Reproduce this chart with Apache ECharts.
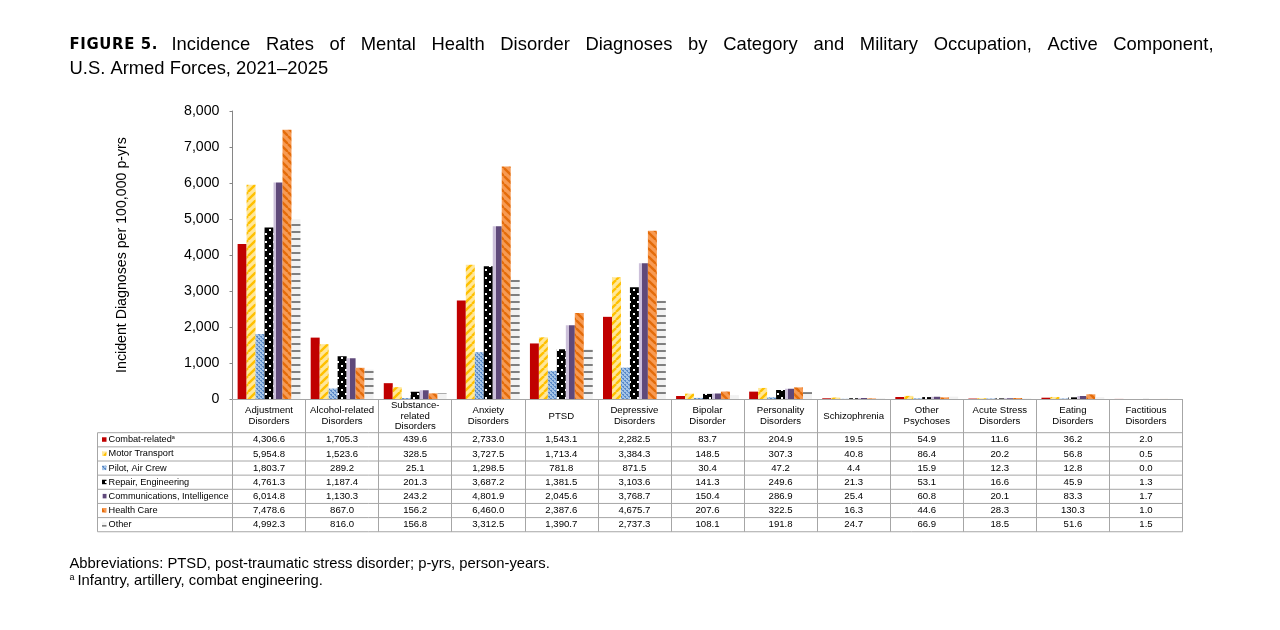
<!DOCTYPE html>
<html><head><meta charset="utf-8">
<script src="https://cdn.jsdelivr.net/npm/echarts@6/dist/echarts.min.js"></script>
<style>html,body{margin:0;padding:0;background:#fff}#c{width:1280px;height:630px}</style>
</head><body><div id="c"></div>
<script>
// ---------- DATA ----------
const categories = ['Adjustment\nDisorders','Alcohol-related\nDisorders','Substance-\nrelated\nDisorders','Anxiety\nDisorders','PTSD','Depressive\nDisorders','Bipolar\nDisorder','Personality\nDisorders','Schizophrenia','Other\nPsychoses','Acute Stress\nDisorders','Eating\nDisorders','Factitious\nDisorders'];
const seriesNames = ['Combat-related','Motor Transport','Pilot, Air Crew','Repair, Engineering','Communications, Intelligence','Health Care','Other'];
const combatRelated     = [4306.6,1705.3,439.6,2733.0,1543.1,2282.5,83.7,204.9,19.5,54.9,11.6,36.2,2.0];
const motorTransport    = [5954.8,1523.6,328.5,3727.5,1713.4,3384.3,148.5,307.3,40.8,86.4,20.2,56.8,0.5];
const pilotAirCrew      = [1803.7,289.2,25.1,1298.5,781.8,871.5,30.4,47.2,4.4,15.9,12.3,12.8,0.0];
const repairEngineering = [4761.3,1187.4,201.3,3687.2,1381.5,3103.6,141.3,249.6,21.3,53.1,16.6,45.9,1.3];
const commsIntelligence = [6014.8,1130.3,243.2,4801.9,2045.6,3768.7,150.4,286.9,25.4,60.8,20.1,83.3,1.7];
const healthCare        = [7478.6,867.0,156.2,6460.0,2387.6,4675.7,207.6,322.5,16.3,44.6,28.3,130.3,1.0];
const otherOccupations  = [4992.3,816.0,156.8,3312.5,1390.7,2737.3,108.1,191.8,24.7,66.9,18.5,51.6,1.5];
const yTicks = [0,1000,2000,3000,4000,5000,6000,7000,8000];

const rows = [combatRelated, motorTransport, pilotAirCrew, repairEngineering, commsIntelligence, healthCare, otherOccupations];

// ---------- STYLE ----------
const FONT = '"Liberation Sans", Arial, sans-serif';
function tile(w,h,draw){const c=document.createElement('canvas');c.width=w;c.height=h;const g=c.getContext('2d');draw(g,w,h);return c;}
const yellowTile = tile(8,8,(g,w,h)=>{g.fillStyle='#FFE79A';g.fillRect(0,0,w,h);g.strokeStyle='#FFC000';g.lineWidth=2.4;
  for(const o of [-w,0,w]){g.beginPath();g.moveTo(o,h);g.lineTo(o+w,0);g.stroke();}});
const orangeTile = tile(8,8,(g,w,h)=>{g.fillStyle='#F79A52';g.fillRect(0,0,w,h);g.strokeStyle='#E46C0A';g.lineWidth=2.4;
  for(const o of [-w,0,w]){g.beginPath();g.moveTo(o,0);g.lineTo(o+w,h);g.stroke();}});
const blueTile = tile(4,4,(g)=>{g.fillStyle='#A4C3E6';g.fillRect(0,0,4,4);g.fillStyle='#5A8AC8';g.fillRect(0,0,2,1);g.fillRect(2,2,2,1);g.fillRect(1,1,1,1);g.fillRect(3,3,1,1);});
const blackTile = tile(8,8,(g)=>{g.fillStyle='#000';g.fillRect(0,0,8,8);g.fillStyle='#fff';g.fillRect(1,1,2,2);g.fillRect(5,5,2,2);});
const grayTile = tile(4,7,(g)=>{g.fillStyle='#F2F2F2';g.fillRect(0,0,4,7);g.fillStyle='#7F7F7F';g.fillRect(0,0,4,2);});
const purpleFill = new echarts.graphic.LinearGradient(0,0,1,0,[
  {offset:0,color:'#CCC0DA'},{offset:0.33,color:'#CCC0DA'},{offset:0.33,color:'#5F497A'},{offset:1,color:'#5F497A'}]);
const fills = ['#C00000',
  {image:yellowTile,repeat:'repeat'},
  {image:blueTile,repeat:'repeat'},
  {image:blackTile,repeat:'repeat'},
  purpleFill,
  {image:orangeTile,repeat:'repeat'},
  {image:grayTile,repeat:'repeat'}];

// ---------- LAYOUT ----------
const gridLeft = 232.5, gridRight = 1182.5, gridTop = 111, axisY = 399;
const headerBottom = 432.7, rowH = 14.15, tableLeft = 97.5;
const tableBottom = headerBottom + rowH*rows.length;

function fmt(v){return v.toLocaleString('en-US',{minimumFractionDigits:1,maximumFractionDigits:1});}

const xAxes = [{
  type:'category', data:categories, gridIndex:0, position:'bottom',
  axisLine:{show:true,lineStyle:{color:'#A6A6A6',width:1}},
  axisTick:{show:true,interval:0,length:tableBottom-axisY,lineStyle:{color:'#A6A6A6'}},
  axisLabel:{interval:0,margin:(headerBottom-axisY)/2,verticalAlign:'middle',fontSize:9.6,lineHeight:10.5,color:'#000',fontFamily:FONT,hideOverlap:false},
  splitLine:{show:false}
}];
rows.forEach((r,ri)=>{
  xAxes.push({type:'category',data:categories,gridIndex:0,position:'bottom',
    offset: headerBottom + (ri+0.5)*rowH - axisY,
    axisLine:{show:false},axisTick:{show:false},splitLine:{show:false},
    axisLabel:{interval:0,margin:0,verticalAlign:'middle',fontSize:9.6,color:'#000',fontFamily:FONT,
      formatter:(v,idx)=>fmt(r[idx])}});
});

const series = rows.map((r,i)=>({
  name:seriesNames[i], type:'bar', data:r, xAxisIndex:0,
  barGap:'0%', barCategoryGap:'14%', silent:true,
  itemStyle:{color:fills[i]}
}));

const chart = echarts.init(document.getElementById('c'),null,{renderer:'canvas'});
chart.setOption({
  animation:false,
  backgroundColor:'#fff',
  grid:{left:gridLeft,right:1280-gridRight,top:gridTop,bottom:630-axisY,containLabel:false},
  xAxis:xAxes,
  yAxis:{type:'value',min:yTicks[0],max:yTicks[yTicks.length-1],interval:yTicks[1]-yTicks[0],
    name:'Incident Diagnoses per 100,000 p-yrs',nameLocation:'middle',nameGap:103,nameRotate:90,
    nameTextStyle:{fontSize:14.2,color:'#000',fontFamily:FONT},
    axisLine:{show:true,lineStyle:{color:'#868686'}},
    axisTick:{show:true,length:3,lineStyle:{color:'#868686'}},
    splitLine:{show:false},
    axisLabel:{fontSize:14.2,color:'#000',fontFamily:FONT,margin:13,formatter:v=>v.toLocaleString('en-US')}},
  series:series
});

// ---------- TABLE + TEXT GRAPHICS ----------
const elements = [];
for(let k=0;k<=rows.length;k++){
  const y = headerBottom + k*rowH;
  elements.push({type:'line',silent:true,shape:{x1:tableLeft,y1:y,x2:gridRight,y2:y},style:{stroke:'#A6A6A6',lineWidth:1}});
}
elements.push({type:'line',silent:true,shape:{x1:tableLeft,y1:headerBottom,x2:tableLeft,y2:tableBottom},style:{stroke:'#A6A6A6',lineWidth:1}});
seriesNames.forEach((n,i)=>{
  const cy = headerBottom + (i+0.5)*rowH;
  elements.push({type:'rect',silent:true,shape:{x:102,y:cy-2.5,width:4.5,height:4.5},style:{fill:fills[i]}});
  const txt = i===0 ? n+'{sup|a}' : n;
  elements.push({type:'text',silent:true,x:108.5,y:cy,style:{text:txt,fontSize:9.2,fontFamily:FONT,fill:'#000',verticalAlign:'middle',align:'left',
    rich:{sup:{fontSize:5.5,fontFamily:FONT,fill:'#000',verticalAlign:'top',padding:[0,0,5,0]}}}});
});

// Title (justified first line)
const mctx = document.createElement('canvas').getContext('2d');
function mw(t,font){mctx.font=font;return mctx.measureText(t).width;}
const titleFont = '18.4px '+FONT;
const figFont = 'bold 16.5px "Liberation Sans Narrow","DejaVu Sans Condensed",sans-serif';
const figChars = ['F','I','G','U','R','E',' ','5','.'];
const figStart = 69.5, figEnd = 157.5;
const figW = figChars.map(c=>mw(c,figFont));
const figSum = figW.reduce((a,b)=>a+b,0);
const figSp = (figEnd-figStart-figSum)/(figChars.length-1);
let fx = figStart;
figChars.forEach((c,i)=>{
  elements.push({type:'text',silent:true,x:fx,y:44.5,style:{text:c,font:figFont,fill:'#000',verticalAlign:'middle',align:'left'}});
  fx += figW[i]+figSp;
});
const line1 = 'Incidence Rates of Mental Health Disorder Diagnoses by Category and Military Occupation, Active Component,'.split(' ');
const l1Start = 171.5, l1End = 1213.5;
const wW = line1.map(w=>mw(w,titleFont));
const gap = (l1End-l1Start-wW.reduce((a,b)=>a+b,0))/(line1.length-1);
let wx = l1Start;
line1.forEach((w,i)=>{
  elements.push({type:'text',silent:true,x:wx,y:44.5,style:{text:w,font:titleFont,fill:'#000',verticalAlign:'middle',align:'left'}});
  wx += wW[i]+gap;
});
elements.push({type:'text',silent:true,x:69.5,y:68.5,style:{text:'U.S. Armed Forces, 2021\u20132025',font:titleFont,fill:'#000',verticalAlign:'middle',align:'left'}});

// Footnotes
elements.push({type:'text',silent:true,x:69.5,y:564,style:{text:'Abbreviations: PTSD, post-traumatic stress disorder; p-yrs, person-years.',fontSize:14.8,fontFamily:FONT,fill:'#000',verticalAlign:'middle',align:'left'}});
elements.push({type:'text',silent:true,x:69.5,y:581,style:{text:'{sup|a}Infantry, artillery, combat engineering.',fontSize:14.8,fontFamily:FONT,fill:'#000',verticalAlign:'middle',align:'left',
  rich:{sup:{fontSize:9,fontFamily:FONT,fill:'#000',verticalAlign:'top',padding:[0,3,6,0]}}}});

chart.setOption({graphic:{elements:elements}});
</script>
</body></html>
